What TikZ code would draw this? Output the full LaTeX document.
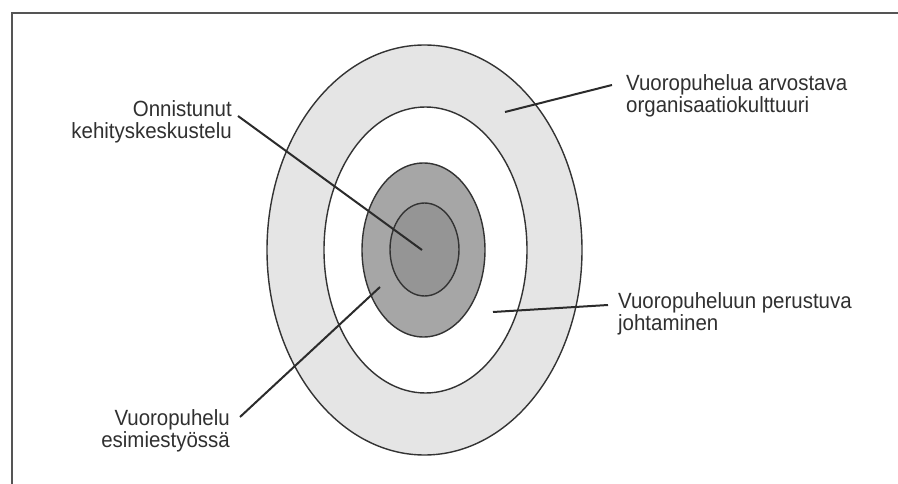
\documentclass[tikz,border=0pt]{standalone}
\usepackage{fontspec}
\setmainfont[FakeStretch=0.93]{Liberation Sans}
\usetikzlibrary{shapes.geometric}
\definecolor{ringlight}{HTML}{E5E5E5}
\definecolor{ringdark}{HTML}{A6A6A6}
\definecolor{ringcore}{HTML}{959595}
\definecolor{edgecol}{HTML}{333333}
\definecolor{framecol}{HTML}{555555}
\definecolor{leadcol}{HTML}{2B2B2B}
\definecolor{textcol}{HTML}{303030}
\begin{document}
\begin{tikzpicture}[x=1pt,y=-1pt,
  ring/.style={ellipse, draw=edgecol, line width=1.4pt, inner sep=0pt},
  lbl/.style={font=\fontsize{22}{22}\selectfont, text=textcol, inner sep=0pt},
  lead/.style={draw=leadcol, line width=2pt}]
\useasboundingbox (0,0) rectangle (898,484);
\draw[line width=2.5pt, draw=framecol] (12,484) -- (12,13) -- (898,13);
\node[ring, fill=ringlight, minimum width=315pt, minimum height=410pt] (outer) at (424.5,250) {};
\node[ring, fill=white, minimum width=203pt, minimum height=286pt] (middle) at (425.5,250) {};
\node[ring, fill=ringdark, minimum width=123pt, minimum height=174pt] (dark) at (423.5,250) {};
\node[ring, fill=ringcore, minimum width=69pt, minimum height=93pt] (core) at (424.5,249.5) {};
\node[lbl, align=right, anchor=north east] (onn) at (232,100) {Onnistunut\\kehityskeskustelu};
\node[lbl, align=right, anchor=north east] (esim) at (230,409) {Vuoropuhelu\\esimiestyössä};
\node[lbl, align=left, anchor=north west] (arvo) at (626,74) {Vuoropuhelua arvostava\\organisaatiokulttuuri};
\node[lbl, align=left, anchor=north west] (johto) at (618,292.5) {Vuoropuheluun perustuva\\johtaminen};
\coordinate (onnA) at (238,116);
\coordinate (onnB) at (422,250);
\coordinate (arvoA) at (612,85);
\coordinate (arvoB) at (505,112);
\coordinate (johtoA) at (608,305);
\coordinate (johtoB) at (493,312);
\coordinate (esimA) at (240,417);
\coordinate (esimB) at (380,287);
\draw[lead] (onnA) -- (onnB);
\draw[lead] (arvoA) -- (arvoB);
\draw[lead] (johtoA) -- (johtoB);
\draw[lead] (esimA) -- (esimB);
\end{tikzpicture}
\end{document}
